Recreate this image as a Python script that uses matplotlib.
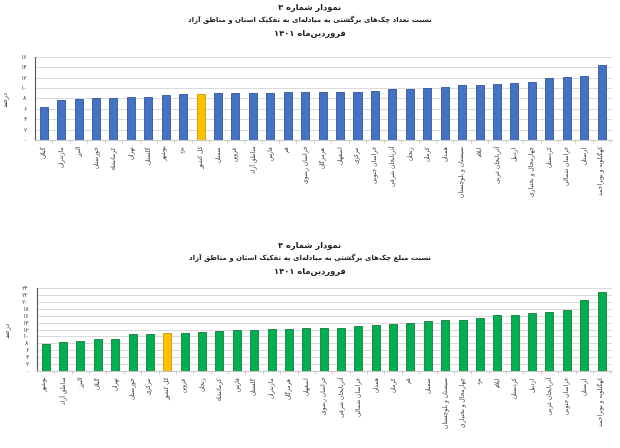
import re
import matplotlib
matplotlib.use("Agg")
import matplotlib.pyplot as plt

# ---------------------------------------------------------------------------
# data
# ---------------------------------------------------------------------------
labels_count = [
    "گیلان", "مازندران", "البرز", "خوزستان", "کرمانشاه", "تهران", "گلستان",
    "بوشهر", "یزد", "کل کشور", "سمنان", "قزوین", "مناطق آزاد", "فارس", "قم",
    "خراسان رضوی", "هرمزگان", "اصفهان", "مرکزی", "خراسان جنوبی",
    "آذربایجان شرقی", "زنجان", "کرمان", "همدان", "سیستان و بلوچستان", "ایلام",
    "آذربایجان غربی", "اردبیل", "چهارمحال و بختیاری", "کردستان",
    "خراسان شمالی", "لرستان", "کهگیلویه و بویراحمد",
]
values_count = [
    6.4, 7.8, 7.9, 8.05, 8.1, 8.25, 8.3, 8.6, 8.9, 8.9, 9.1, 9.1, 9.15, 9.15,
    9.2, 9.2, 9.2, 9.25, 9.3, 9.4, 9.75, 9.75, 10.05, 10.25, 10.6, 10.6, 10.8,
    11.0, 11.1, 11.9, 12.2, 12.4, 14.4,
]

labels_amount = [
    "بوشهر", "مناطق آزاد", "البرز", "گیلان", "تهران", "خوزستان", "مرکزی",
    "کل کشور", "قزوین", "زنجان", "کرمانشاه", "فارس", "گلستان", "مازندران",
    "هرمزگان", "اصفهان", "خراسان رضوی", "آذربایجان شرقی", "خراسان شمالی",
    "همدان", "کرمان", "قم", "سمنان", "سیستان و بلوچستان",
    "چهارمحال و بختیاری", "یزد", "ایلام", "کردستان", "اردبیل",
    "آذربایجان غربی", "خراسان جنوبی", "لرستان", "کهگیلویه و بویراحمد",
]
values_amount = [
    7.7, 8.25, 8.7, 9.3, 9.3, 10.6, 10.7, 10.9, 11.1, 11.3, 11.65, 11.85,
    11.85, 12.1, 12.2, 12.4, 12.4, 12.5, 13.1, 13.2, 13.7, 14.0, 14.4, 14.7,
    14.8, 15.3, 16.1, 16.2, 16.8, 17.0, 17.6, 20.4, 22.7,
]

titles_count = ["نمودار شماره ۳",
                "نسبت تعداد چک‌های برگشتی به مبادله‌ای به تفکیک استان و مناطق آزاد",
                "فروردین‌ماه ۱۴۰۱"]
titles_amount = ["نمودار شماره ۴",
                 "نسبت مبلغ چک‌های برگشتی به مبادله‌ای به تفکیک استان و مناطق آزاد",
                 "فروردین‌ماه ۱۴۰۱"]
y_label = "درصد"
highlight = "کل کشور"

# ---------------------------------------------------------------------------
# minimal Persian shaping (matplotlib has no bidi / joining support)
# ---------------------------------------------------------------------------
FORMS = {  # isolated, final, initial, medial
    "ا": (0xFE8D, 0xFE8E), "آ": (0xFE81, 0xFE82), "د": (0xFEA9, 0xFEAA),
    "ذ": (0xFEAB, 0xFEAC), "ر": (0xFEAD, 0xFEAE), "ز": (0xFEAF, 0xFEB0),
    "ژ": (0xFB8A, 0xFB8B), "و": (0xFEED, 0xFEEE),
    "ب": (0xFE8F, 0xFE90, 0xFE91, 0xFE92), "پ": (0xFB56, 0xFB57, 0xFB58, 0xFB59),
    "ت": (0xFE95, 0xFE96, 0xFE97, 0xFE98), "ث": (0xFE99, 0xFE9A, 0xFE9B, 0xFE9C),
    "ج": (0xFE9D, 0xFE9E, 0xFE9F, 0xFEA0), "چ": (0xFB7A, 0xFB7B, 0xFB7C, 0xFB7D),
    "ح": (0xFEA1, 0xFEA2, 0xFEA3, 0xFEA4), "خ": (0xFEA5, 0xFEA6, 0xFEA7, 0xFEA8),
    "س": (0xFEB1, 0xFEB2, 0xFEB3, 0xFEB4), "ش": (0xFEB5, 0xFEB6, 0xFEB7, 0xFEB8),
    "ص": (0xFEB9, 0xFEBA, 0xFEBB, 0xFEBC), "ض": (0xFEBD, 0xFEBE, 0xFEBF, 0xFEC0),
    "ط": (0xFEC1, 0xFEC2, 0xFEC3, 0xFEC4), "ظ": (0xFEC5, 0xFEC6, 0xFEC7, 0xFEC8),
    "ع": (0xFEC9, 0xFECA, 0xFECB, 0xFECC), "غ": (0xFECD, 0xFECE, 0xFECF, 0xFED0),
    "ف": (0xFED1, 0xFED2, 0xFED3, 0xFED4), "ق": (0xFED5, 0xFED6, 0xFED7, 0xFED8),
    "ک": (0xFB8E, 0xFB8F, 0xFB90, 0xFB91), "گ": (0xFB92, 0xFB93, 0xFB94, 0xFB95),
    "ل": (0xFEDD, 0xFEDE, 0xFEDF, 0xFEE0), "م": (0xFEE1, 0xFEE2, 0xFEE3, 0xFEE4),
    "ن": (0xFEE5, 0xFEE6, 0xFEE7, 0xFEE8), "ه": (0xFEE9, 0xFEEA, 0xFEEB, 0xFEEC),
    "ی": (0xFBFC, 0xFBFD, 0xFBFE, 0xFBFF), "ئ": (0xFE89, 0xFE8A, 0xFE8B, 0xFE8C),
}
LAM_ALEF = (0xFEFB, 0xFEFC)


def shape(text):
    # merge lam + alef into one unit first
    units = []
    i = 0
    while i < len(text):
        if text[i] == "ل" and i + 1 < len(text) and text[i + 1] == "ا":
            units.append("LA")
            i += 2
        else:
            units.append(text[i])
            i += 1

    def joins_next(u):
        return u in FORMS and len(FORMS[u]) == 4

    def joinable(u):
        return u == "LA" or u in FORMS

    out = []
    for k, u in enumerate(units):
        prev_j = k > 0 and joins_next(units[k - 1])
        nxt = units[k + 1] if k + 1 < len(units) else None
        if u == "LA":
            out.append(chr(LAM_ALEF[1] if prev_j else LAM_ALEF[0]))
            continue
        if u not in FORMS:
            if u != "\u200c":
                out.append(u)
            continue
        f = FORMS[u]
        next_j = len(f) == 4 and nxt is not None and joinable(nxt)
        if prev_j and next_j:
            out.append(chr(f[3]))
        elif prev_j:
            out.append(chr(f[1]))
        elif next_j:
            out.append(chr(f[2]))
        else:
            out.append(chr(f[0]))
    vis = "".join(out)[::-1]
    # digit runs keep left-to-right order
    return re.sub("[۰-۹]+", lambda m: m.group(0)[::-1], vis)


def fa_num(n):
    return str(n).translate(str.maketrans("0123456789", "۰۱۲۳۴۵۶۷۸۹"))


plt.rcParams["font.family"] = ["DejaVu Sans"]


# ---------------------------------------------------------------------------
# one bar chart
# ---------------------------------------------------------------------------
def draw_chart(fig, rect, labels, values, ymax, color, edge, titles, title_y):
    ax = fig.add_axes(rect)
    x = range(len(labels))
    colors = ["#FFC000" if l == highlight else color for l in labels]
    edges = ["#C99700" if l == highlight else edge for l in labels]
    ax.bar(x, values, width=0.46, color=colors, edgecolor=edges, linewidth=0.6,
           zorder=3)
    ax.set_xlim(-0.5, len(labels) - 0.4)
    ax.set_ylim(0, ymax)
    ticks = list(range(0, ymax + 1, 2))
    ax.set_yticks(ticks)
    ax.set_yticklabels([fa_num(t) for t in ticks], fontsize=4.5, color="#444444")
    ax.yaxis.grid(True, color="#D9D9D9", linewidth=0.7, zorder=0)
    ax.tick_params(axis="y", length=0, pad=6)

    ax.set_xticks(list(x))
    ax.set_xticklabels([shape(l) for l in labels], rotation=90, fontsize=4.3,
                       ha="center", va="top", color="#333333")
    ax.set_xticks([i + 0.5 for i in x], minor=True)
    ax.tick_params(axis="x", which="major", length=0, pad=4)
    ax.tick_params(axis="x", which="minor", length=2.5, color="#C8C8C8")

    for s in ("top", "right"):
        ax.spines[s].set_visible(False)
    ax.spines["left"].set_color("#555555")
    ax.spines["left"].set_linewidth(0.8)
    ax.spines["bottom"].set_color("#C8C8C8")
    ax.spines["bottom"].set_linewidth(0.8)

    ax.set_ylabel(shape(y_label), fontsize=5, color="#444444", labelpad=8)

    sizes = [6.0, 5.0, 6.0]
    for k, t in enumerate(titles):
        fig.text(0.5, title_y[k], shape(t), ha="center", va="center",
                 fontsize=sizes[k], fontweight="bold", color="#222222")
    return ax


fig = plt.figure(figsize=(6.2, 4.48), dpi=100)
W, H = 620, 448


def rect(left, top, right, bottom):
    return [left / W, 1 - bottom / H, (right - left) / W, (bottom - top) / H]


draw_chart(fig, rect(35, 57, 612, 140), labels_count, values_count, 16,
           "#4472C4", "#2F5597", titles_count,
           [1 - 8 / H, 1 - 20 / H, 1 - 33 / H])
draw_chart(fig, rect(37, 288, 612, 371), labels_amount, values_amount, 24,
           "#00B050", "#137A3A", titles_amount,
           [1 - 245 / H, 1 - 258 / H, 1 - 271 / H])

fig.savefig("out.png", dpi=100)
